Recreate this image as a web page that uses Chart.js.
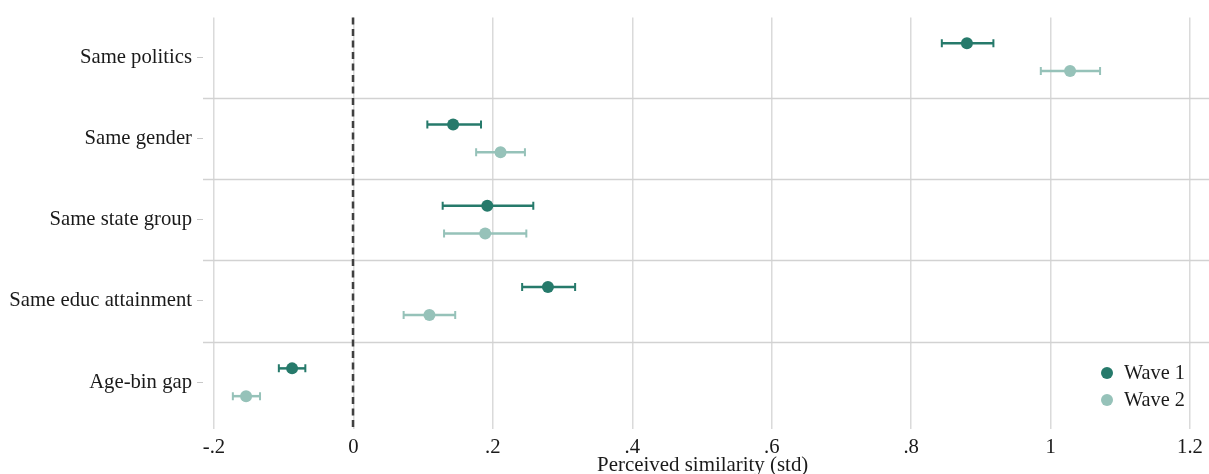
<!DOCTYPE html>
<html>
<head>
<meta charset="utf-8">
<script src="https://cdn.jsdelivr.net/npm/chart.js@4.4.1/dist/chart.umd.min.js"></script>
<style>
  html, body { margin: 0; padding: 0; background: #ffffff; }
  #wrap { width: 1209px; height: 474px; }
</style>
</head>
<body>
<div id="wrap"><canvas id="c" width="1209" height="474"></canvas></div>
<script>
const categories = ["Same politics", "Same gender", "Same state group", "Same educ attainment", "Age-bin gap"];
const seriesNames = ["Wave 1", "Wave 2"];
const wave1Est = [0.880, 0.143, 0.192, 0.279, -0.088];
const wave1Lo  = [0.844, 0.106, 0.128, 0.242, -0.107];
const wave1Hi  = [0.918, 0.183, 0.258, 0.318, -0.069];
const wave2Est = [1.028, 0.211, 0.189, 0.109, -0.154];
const wave2Lo  = [0.986, 0.176, 0.130, 0.072, -0.173];
const wave2Hi  = [1.071, 0.246, 0.248, 0.146, -0.134];
const xTickValues = [-0.2, 0, 0.2, 0.4, 0.6, 0.8, 1.0, 1.2];
const xTickLabels = ["-.2", "0", ".2", ".4", ".6", ".8", "1", "1.2"];

const colors = ["#267a6b", "#96c2b9"];
const offset = 0.171;
const FONT = "'Liberation Serif', 'DejaVu Serif', serif";

function buildPoints(est, lo, hi, shift) {
  return est.map((v, i) => ({ x: v, y: i + shift, lo: lo[i], hi: hi[i] }));
}

const datasets = [
  { label: seriesNames[0], data: buildPoints(wave1Est, wave1Lo, wave1Hi, -offset), color: colors[0] },
  { label: seriesNames[1], data: buildPoints(wave2Est, wave2Lo, wave2Hi, offset), color: colors[1] }
].map(d => ({
  label: d.label,
  data: d.data,
  backgroundColor: d.color,
  borderColor: d.color,
  pointRadius: 6,
  pointBorderWidth: 0,
  showLine: false
}));

const decor = {
  id: 'decor',
  beforeDatasetsDraw(chart) {
    const ctx = chart.ctx;
    const xs = chart.scales.x, ys = chart.scales.y;
    const ca = chart.chartArea;
    ctx.save();
    // category separators
    ctx.strokeStyle = '#d2d2d2';
    ctx.lineWidth = 1.5;
    for (let i = 0; i < categories.length - 1; i++) {
      const y = Math.round(ys.getPixelForValue(i + 0.5)) + 0.5;
      ctx.beginPath();
      ctx.moveTo(ca.left, y);
      ctx.lineTo(chart.width, y);
      ctx.stroke();
    }
    // zero reference line
    const x0 = Math.round(xs.getPixelForValue(0));
    ctx.strokeStyle = '#404040';
    ctx.lineWidth = 2.5;
    ctx.setLineDash([7, 4.5]);
    ctx.beginPath();
    ctx.moveTo(x0, ca.top);
    ctx.lineTo(x0, ca.bottom);
    ctx.stroke();
    ctx.setLineDash([]);
    // error bars
    chart.data.datasets.forEach(ds => {
      ctx.strokeStyle = ds.borderColor;
      ds.data.forEach(p => {
        const y = ys.getPixelForValue(p.y);
        const xl = xs.getPixelForValue(p.lo);
        const xh = xs.getPixelForValue(p.hi);
        ctx.lineWidth = 2.5;
        ctx.beginPath();
        ctx.moveTo(xl, y); ctx.lineTo(xh, y);
        ctx.stroke();
        ctx.lineWidth = 2;
        ctx.beginPath();
        ctx.moveTo(xl, y - 4); ctx.lineTo(xl, y + 4);
        ctx.moveTo(xh, y - 4); ctx.lineTo(xh, y + 4);
        ctx.stroke();
      });
    });
    ctx.restore();
  },
  afterDatasetsDraw(chart) {
    const ctx = chart.ctx;
    ctx.save();
    ctx.font = "20.3px " + FONT;
    ctx.textBaseline = 'middle';
    ctx.textAlign = 'left';
    chart.data.datasets.forEach((ds, i) => {
      const y = 373 + i * 27;
      const cx = 1107;
      ctx.fillStyle = ds.backgroundColor;
      ctx.beginPath();
      ctx.arc(cx, y, 6, 0, Math.PI * 2);
      ctx.fill();
      ctx.fillStyle = '#1a1a1a';
      ctx.fillText(ds.label, cx + 17, y + 1);
    });
    ctx.restore();
  }
};

new Chart(document.getElementById('c'), {
  type: 'scatter',
  data: { datasets },
  plugins: [decor],
  options: {
    responsive: false,
    animation: false,
    events: [],
    layout: { padding: { left: 0, right: 5, top: 15, bottom: 0 } },
    plugins: {
      legend: { display: false },
      tooltip: { enabled: false }
    },
    scales: {
      x: {
        type: 'linear',
        min: -0.2158,
        max: 1.2178,
        afterBuildTicks(scale) { scale.ticks = xTickValues.map(v => ({ value: v })); },
        afterFit(scale) { scale.height = 45; },
        ticks: {
          callback(value) {
            const i = xTickValues.findIndex(v => Math.abs(v - value) < 1e-6);
            return i >= 0 ? xTickLabels[i] : '';
          },
          color: '#1a1a1a',
          font: { family: FONT, size: 20.7 },
          padding: 6,
          maxRotation: 0,
          autoSkip: false
        },
        grid: { color: '#dadada', lineWidth: 1.5, drawTicks: false },
        border: { display: false },
        title: {
          display: true,
          text: 'Perceived similarity (std)',
          color: '#1a1a1a',
          font: { family: FONT, size: 20.9, lineHeight: 0.85 },
          padding: { top: 0, bottom: 0 }
        }
      },
      y: {
        type: 'linear',
        reverse: true,
        min: -0.489,
        max: 4.575,
        afterBuildTicks(scale) { scale.ticks = categories.map((c, i) => ({ value: i })); },
        afterFit(scale) { scale.width = 203; },
        ticks: {
          callback(value) { return categories[Math.round(value)] || ''; },
          color: '#1a1a1a',
          font: { family: FONT, size: 20.7 },
          padding: 5,
          autoSkip: false
        },
        grid: { drawOnChartArea: false, drawTicks: true, tickLength: 6, color: '#c8c8c8', lineWidth: 1 },
        border: { display: false }
      }
    }
  }
});
</script>
</body>
</html>
